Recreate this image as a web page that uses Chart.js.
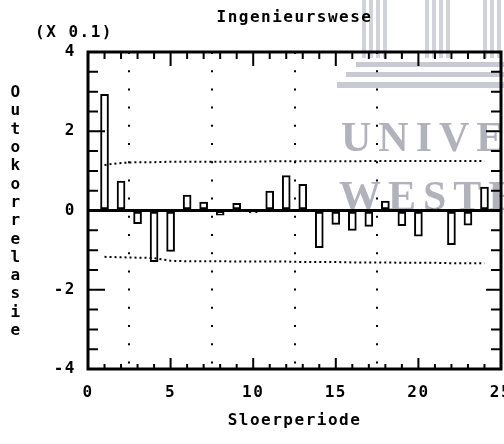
<!DOCTYPE html>
<html>
<head>
<meta charset="utf-8">
<script src="https://cdn.jsdelivr.net/npm/chart.js@4/dist/chart.umd.min.js"></script>
<style>
    html, body { margin: 0; padding: 0; background: #fff; }
    #wrap { width: 504px; height: 444px; }
</style>
</head>
<body>
<div id="wrap"><canvas id="acfChart"></canvas></div>
<script>
// Autocorrelation values (x 0.1) per lag
const lags = [1, 2, 3, 4, 5, 6, 7, 8, 9, 10, 11, 12, 13, 14, 15, 16, 17, 18, 19, 20, 21, 22, 23, 24];
const autocorr = [2.93, 0.74, -0.33, -1.29, -1.03, 0.39, 0.21, -0.12, 0.18, -0.06, 0.49, 0.88,
                  0.66, -0.94, -0.35, -0.50, -0.40, 0.24, -0.38, -0.65, 0.04, -0.86, -0.37, 0.59];
// Confidence limits (dotted lines)
const upperLimit = [1.15, 1.20, 1.22, 1.22, 1.23, 1.23, 1.23, 1.23, 1.23, 1.23, 1.24, 1.24,
                    1.24, 1.24, 1.24, 1.24, 1.25, 1.25, 1.25, 1.25, 1.25, 1.25, 1.25, 1.25];
const lowerLimit = [-1.17, -1.18, -1.19, -1.20, -1.27, -1.28, -1.28, -1.28, -1.29, -1.29, -1.29, -1.29,
                    -1.30, -1.30, -1.30, -1.31, -1.31, -1.31, -1.32, -1.32, -1.32, -1.33, -1.33, -1.33];
const xTicks = [0, 5, 10, 15, 20, 25];
const yTicks = [-4, -2, 0, 2, 4];

const titleText = 'Ingenieurswese';
const scaleNote = '(X 0.1)';
const yTitle = 'Outokorrelasie';
const xTitle = 'Sloerperiode';

const monoFont = '"DejaVu Sans Mono", monospace';

function toPoints(xs, ys) {
    return xs.map((x, i) => ({ x: x, y: ys[i] }));
}

// letter spacing gets reset whenever the canvas is resized
const spacingPlugin = {
    id: 'spacing',
    beforeUpdate(chart) { chart.ctx.letterSpacing = '1.5px'; },
    beforeDraw(chart) { chart.ctx.letterSpacing = '1.5px'; }
};

// faint scanned watermark behind the plot
const watermarkPlugin = {
    id: 'watermark',
    beforeDraw(chart) {
        const ctx = chart.ctx;
        ctx.save();
        ctx.fillStyle = 'rgba(205,205,215,0.9)';
        [[362, 388], [425, 450], [483, 506]].forEach(p => {
            for (let x = p[0]; x < p[1] - 1; x += 7) ctx.fillRect(x, 0, 4, 58);
        });
        ctx.fillStyle = 'rgba(195,195,207,0.9)';
        ctx.fillRect(356, 62, 150, 5);
        ctx.fillRect(346, 72, 160, 5);
        ctx.fillRect(337, 82, 170, 6);
        ctx.fillStyle = 'rgba(165,165,178,0.85)';
        ctx.font = 'bold 42px "Liberation Serif", serif';
        ctx.letterSpacing = '7px';
        ctx.textBaseline = 'alphabetic';
        ctx.textAlign = 'left';
        ctx.fillText('UNIVE', 341, 151);
        ctx.fillText('WESTE', 339, 210);
        ctx.restore();
        ctx.letterSpacing = '1.5px';
    }
};

// inward tick marks, frame and free text
const framePlugin = {
    id: 'frame',
    afterDraw(chart) {
        const ctx = chart.ctx;
        const a = chart.chartArea;
        const x = chart.scales.x;
        const y = chart.scales.y;
        ctx.save();
        ctx.strokeStyle = '#000';
        ctx.lineWidth = 2;
        ctx.beginPath();
        for (let k = 0; k <= 25; k++) {
            const px = x.getPixelForValue(k);
            const major = k % 5 === 0;
            ctx.moveTo(px, a.top);
            ctx.lineTo(px, a.top + (major ? 14 : 7));
            ctx.moveTo(px, a.bottom);
            ctx.lineTo(px, a.bottom - (major ? 11 : 5));
        }
        for (let v = -4; v <= 4; v += 0.5) {
            const py = y.getPixelForValue(v);
            const major = v % 2 === 0;
            ctx.moveTo(a.left, py);
            ctx.lineTo(a.left + (major ? 17 : 10), py);
            ctx.moveTo(a.right, py);
            ctx.lineTo(a.right - (major ? 15 : 10), py);
        }
        ctx.stroke();
        ctx.lineWidth = 3;
        ctx.strokeRect(a.left, a.top, a.right - a.left, a.bottom - a.top);

        ctx.fillStyle = '#000';
        ctx.font = 'bold 16px ' + monoFont;
        ctx.textAlign = 'center';
        ctx.textBaseline = 'middle';
        ctx.fillText(titleText, (a.left + a.right) / 2, 18);
        ctx.fillText(scaleNote, 74, 33);
        for (let i = 0; i < yTitle.length; i++) {
            ctx.fillText(yTitle[i], 16, 93 + i * 18.3);
        }
        ctx.restore();
    }
};

const ctx = document.getElementById('acfChart');
new Chart(ctx, {
    type: 'bar',
    data: {
        datasets: [
            {
                type: 'bar',
                data: toPoints(lags, autocorr),
                backgroundColor: '#fff',
                borderColor: '#000',
                borderWidth: 2,
                borderSkipped: false,
                barThickness: 8,
                order: 2
            },
            {
                type: 'line',
                data: toPoints(lags, upperLimit),
                borderColor: '#000',
                borderWidth: 2,
                borderDash: [2, 3],
                pointRadius: 0,
                fill: false,
                order: 1
            },
            {
                type: 'line',
                data: toPoints(lags, lowerLimit),
                borderColor: '#000',
                borderWidth: 2,
                borderDash: [2, 3],
                pointRadius: 0,
                fill: false,
                order: 1
            }
        ]
    },
    options: {
        responsive: true,
        maintainAspectRatio: false,
        animation: false,
        devicePixelRatio: 1,
        layout: { padding: { top: 52, right: 3, left: 0, bottom: 0 } },
        plugins: {
            legend: { display: false },
            tooltip: { enabled: false }
        },
        scales: {
            x: {
                type: 'linear',
                min: 0,
                max: 25,
                offset: false,
                afterBuildTicks: scale => { scale.ticks = xTicks.map(v => ({ value: v })); },
                afterFit: scale => {
                    scale.height = 75;
                    scale.paddingLeft = 0;
                    scale.paddingRight = 0;
                },
                ticks: {
                    color: '#000',
                    padding: 14,
                    maxRotation: 0,
                    autoSkip: false,
                    font: { family: monoFont, size: 16, weight: 'bold' }
                },
                grid: {
                    drawTicks: false,
                    lineWidth: 2,
                    color: c => (c.tick && c.tick.value > 0 && c.tick.value < 25) ? '#000' : 'rgba(0,0,0,0)'
                },
                border: { display: false, dash: [2, 16.2] },
                title: {
                    display: true,
                    text: xTitle,
                    color: '#000',
                    font: { family: monoFont, size: 16, weight: 'bold' },
                    padding: { top: 0, bottom: 14 }
                }
            },
            y: {
                min: -4,
                max: 4,
                afterBuildTicks: scale => {
                    const t = [];
                    for (let v = -4; v <= 4; v += 0.5) t.push({ value: v });
                    scale.ticks = t;
                },
                afterFit: scale => {
                    scale.width = 88;
                    scale.paddingTop = 0;
                    scale.paddingBottom = 0;
                },
                ticks: {
                    color: '#000',
                    padding: 12,
                    autoSkip: false,
                    font: { family: monoFont, size: 16, weight: 'bold' },
                    callback: v => (yTicks.includes(v) ? String(v) : '')
                },
                grid: {
                    drawTicks: false,
                    lineWidth: 3,
                    color: c => (c.tick && c.tick.value === 0) ? '#000' : 'rgba(0,0,0,0)'
                },
                border: { display: false }
            }
        }
    },
    plugins: [spacingPlugin, watermarkPlugin, framePlugin]
});
</script>
</body>
</html>
